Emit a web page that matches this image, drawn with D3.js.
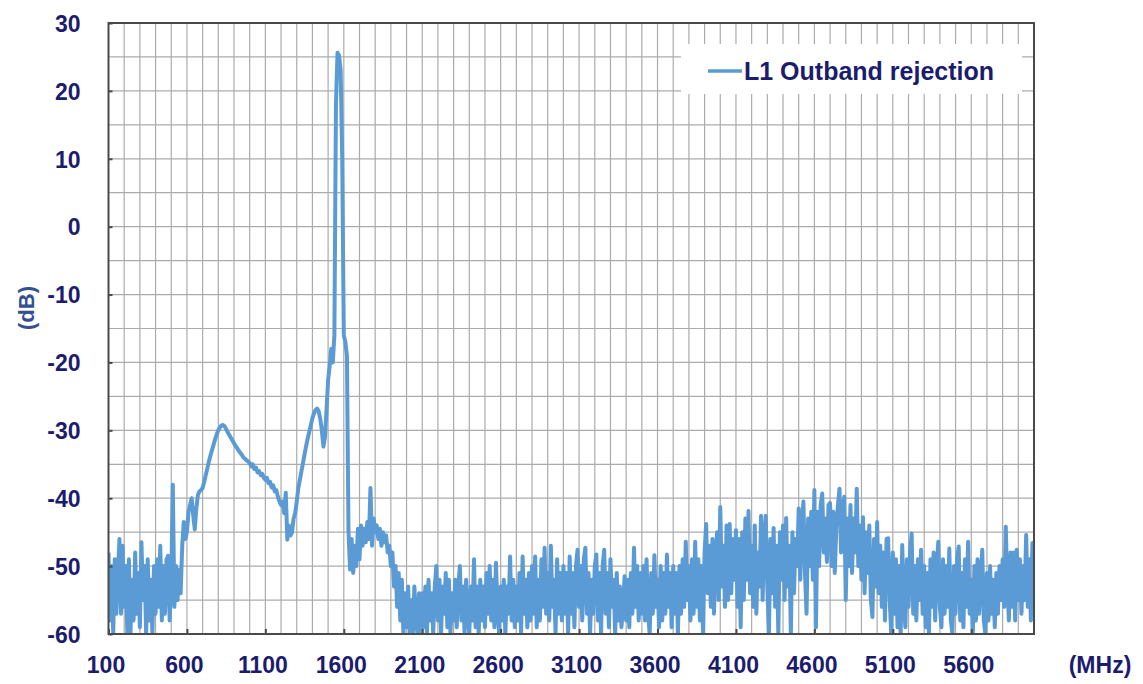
<!DOCTYPE html>
<html>
<head>
<meta charset="utf-8">
<script src="https://cdn.jsdelivr.net/npm/d3@7"></script>
<style>
  html, body { margin: 0; padding: 0; background: #ffffff; }
  svg { display: block; }
  text { font-family: "Liberation Sans", Arial, sans-serif; font-weight: bold; }
</style>
</head>
<body>
<svg id="chart" width="1143" height="684"></svg>
<script>
// Sweep resolution of the measurement (MHz between samples)
const sweepStep = 10;

// Measured response, dB, in consecutive sweep segments
const dbLowBand = [ // 100 – 590 MHz
  -48, -58, -50, -60, -49, -57, -51, -46, -57, -47,
  -56, -50, -60, -49, -60, -52, -58, -48, -57, -51,
  -59, -46.5, -55, -50, -60, -49, -58, -52, -60, -50,
  -57, -49, -56, -47, -58, -50, -57, -49, -48.5, -58,
  -52, -38, -56, -50, -55, -50.5, -54, -47, -43.5, -46
];
const dbHump = [ // 600 – 1290 MHz
  -45, -42, -41, -40, -42.5, -44.6, -41.5, -39.5, -39, -38.8,
  -38.5, -37.6, -36.6, -35.6, -34.6, -33.7, -32.9, -32.1, -31.3, -30.6,
  -30.0, -29.6, -29.3, -29.2, -29.4, -29.8, -30.3, -30.7, -31.1, -31.5,
  -31.9, -32.3, -32.6, -33.0, -33.3, -33.6, -34.0, -34.2, -34.4, -34.6,
  -34.8, -35.3, -35.0, -35.7, -35.5, -36.2, -36.0, -36.6, -36.4, -37.0,
  -37.3, -37.0, -37.8, -37.6, -38.4, -38.1, -39.0, -38.8, -39.8, -40.5,
  -41.0, -40.5, -42.2, -39.2, -46.1, -44.0, -45.5, -45.0, -43.0, -42.2
];
const dbPassband = [ // 1300 – 1630 MHz
  -40.5, -38.5, -37.3, -36, -34.8, -33.5, -32.3, -31.2, -30.2, -29.2,
  -28.2, -27.5, -27.0, -26.8, -27.2, -28.3, -30, -32.4, -31, -27,
  -22.6, -20.5, -18, -20, -16, 18, 25.6, 25.2, 23, 10,
  -16, -17, -19, -45
];
const dbUpperSkirt = [ // 1640 – 2090 MHz
  -50.5, -46, -51, -47, -50, -44.5, -49, -44, -47, -44.5,
  -46.5, -43.5, -46, -38.5, -47, -43, -45, -44, -46, -44.5,
  -47, -45, -46.5, -45.5, -48, -47, -50, -48, -53, -50,
  -56, -51, -58, -52, -60, -54, -59, -53, -60, -55,
  -60, -53, -58, -60, -54, -60
];
const dbMidBand = [ // 2100 – 4090 MHz
  -54, -59, -53, -60, -52, -58, -54, -60, -53, -50,
  -58, -52, -60, -53, -57, -51, -59, -52, -60, -54,
  -58, -52, -59, -53, -50, -58, -53, -60, -52, -57,
  -60, -53, -58, -49, -59, -53, -60, -52, -58, -53,
  -59, -51, -57, -50, -58, -52, -59, -49.5, -56, -60,
  -53, -58, -52, -60, -53, -57, -48.6, -58, -52, -59,
  -53, -58, -51, -60, -48.6, -57, -52, -59, -51, -58,
  -50, -57, -48.6, -59, -52, -58, -49, -56, -47.3, -57,
  -51, -58, -47, -56, -52, -60, -49, -57, -51, -58,
  -50, -57, -51, -60, -48.6, -57, -51, -59, -50, -47.6,
  -56, -50, -58, -49, -47.3, -57, -51, -60, -52, -57,
  -50, -48.3, -58, -51, -60, -50, -47.6, -57, -51, -59,
  -49, -56, -52, -60, -51, -58, -53, -59, -56, -51.5,
  -58, -52, -59, -51, -57, -47.3, -56, -50, -58, -51,
  -57, -50, -58, -49, -57, -60, -51, -57, -48.4, -56,
  -52, -59, -50, -58, -51, -57, -48.3, -56, -51, -59,
  -50, -57, -51, -60, -50, -57, -49, -56, -46.4, -55,
  -50, -58, -49, -57, -46.4, -56, -49, -58, -50, -60,
  -48, -43.8, -54, -47, -56, -46, -57, -48, -45, -55,
  -41.3, -53, -47, -56, -44, -55, -43.8, -54, -46, -52
];
const dbHighBand = [ // 4100 – 6000 MHz
  -44.7, -56, -46, -59, -45, -55, -43, -52, -41.9, -54,
  -47, -56, -44, -57, -48, -53, -42.6, -55, -46, -42.6,
  -53, -60, -46, -54, -44.4, -56, -47, -60, -45, -52,
  -44, -55, -42.9, -53, -47, -60, -45, -54, -46, -50,
  -41.5, -52, -44, -40.5, -51, -57, -43, -50, -42, -52,
  -38.8, -59, -42, -50, -41, -39.3, -48, -43, -49.4, -41,
  -40.7, -50, -42, -51, -44, -41, -38.6, -48, -42, -39.8,
  -55, -43, -50, -41, -51, -43, -48, -38.6, -50, -44,
  -52, -42.8, -54, -45, -51, -44, -55, -57.5, -46, -53,
  -43.5, -54, -47, -56, -48, -58, -46, -45.9, -55, -60,
  -48, -57, -49, -59, -50, -60, -46.9, -56, -59, -49,
  -56, -48, -45.2, -57, -50, -58, -49, -55, -47.6, -57,
  -50, -59, -51, -60, -49, -56, -48, -58, -50, -46.4,
  -56, -59, -49, -57, -50, -56, -47.4, -58, -60, -50,
  -57, -49, -47.1, -58, -51, -59, -49, -56, -46.4, -57,
  -52, -60, -50, -58, -49, -57, -52, -47.6, -58, -60,
  -51, -58, -50, -57, -52, -59, -51, -57, -50, -55,
  -49, -56, -44.2, -53, -58, -48, -56, -48, -58, -47.6,
  -55, -49, -57, -50, -55, -45.4, -56, -49, -58, -46.6,
  -52
];

// Segment start frequencies (MHz)
const segmentStarts = [100, 600, 1300, 1640, 2100, 4100];
const segmentValues = [dbLowBand, dbHump, dbPassband, dbUpperSkirt, dbMidBand, dbHighBand];

// Axis tick labels
const xTickValues = [100, 600, 1100, 1600, 2100, 2600, 3100, 3600, 4100, 4600, 5100, 5600];
const yTickValues = [-60, -50, -40, -30, -20, -10, 0, 10, 20, 30];
const seriesName = "L1 Outband rejection";

// Build the sweep as [freq, dB] points
const sweep = [];
segmentStarts.forEach((start, s) => {
  segmentValues[s].forEach((v, i) => sweep.push([start + i * sweepStep, v]));
});

const svg = d3.select("#chart");
const plot = { left: 108.5, right: 1034, top: 23, bottom: 634 };

const x = d3.scaleLinear().domain([100, 6000]).range([plot.left, plot.right]);
const y = d3.scaleLinear().domain([-60, 30]).range([plot.bottom, plot.top]);

const textColor = "#1c1c6e";
const lineColor = "#5b9bd5";
const gridColor = "#ababab";
const frameColor = "#4a4a4a";
const fontStack = "'Liberation Sans', Arial, sans-serif";

// Grid: every 100 MHz and every 5 dB
const grid = svg.append("g");
grid.selectAll("line.v")
  .data(d3.range(200, 6000, 100))
  .join("line")
  .attr("x1", d => x(d)).attr("x2", d => x(d))
  .attr("y1", plot.top).attr("y2", plot.bottom)
  .attr("stroke", gridColor).attr("stroke-width", 1.2);
grid.selectAll("line.h")
  .data(d3.range(-55, 30, 5))
  .join("line")
  .attr("x1", plot.left).attr("x2", plot.right)
  .attr("y1", d => y(d)).attr("y2", d => y(d))
  .attr("stroke", gridColor).attr("stroke-width", 1.2);

// Data line, clipped to the plot frame
svg.append("clipPath").attr("id", "plotClip")
  .append("rect")
  .attr("x", plot.left).attr("y", plot.top)
  .attr("width", plot.right - plot.left).attr("height", plot.bottom - plot.top);

const line = d3.line().x(d => x(d[0])).y(d => y(d[1]));
svg.append("path")
  .datum(sweep)
  .attr("clip-path", "url(#plotClip)")
  .attr("d", line)
  .attr("fill", "none")
  .attr("stroke", lineColor)
  .attr("stroke-width", 4)
  .attr("stroke-linejoin", "round");

// Frame
svg.append("rect")
  .attr("x", plot.left).attr("y", plot.top)
  .attr("width", plot.right - plot.left).attr("height", plot.bottom - plot.top)
  .attr("fill", "none").attr("stroke", frameColor).attr("stroke-width", 2);

// Axes
const xAxis = svg.append("g")
  .attr("transform", `translate(0,${plot.bottom})`)
  .call(d3.axisBottom(x).tickValues(xTickValues).tickFormat(d3.format("d"))
    .tickSize(-5).tickSizeOuter(0).tickPadding(0));
xAxis.select(".domain").remove();
xAxis.selectAll(".tick line").attr("stroke", frameColor).attr("stroke-width", 2);
xAxis.selectAll(".tick text")
  .attr("y", 39).attr("dy", null).attr("dx", -3)
  .attr("fill", textColor).style("font-size", "23px").style("font-weight", "bold")
  .style("font-family", fontStack);

const yAxis = svg.append("g")
  .attr("transform", `translate(${plot.left},0)`)
  .call(d3.axisLeft(y).tickValues(yTickValues).tickFormat(d3.format("d"))
    .tickSize(-4).tickSizeOuter(0).tickPadding(0));
yAxis.select(".domain").remove();
yAxis.selectAll(".tick line").attr("stroke", frameColor).attr("stroke-width", 2);
yAxis.selectAll(".tick text")
  .attr("x", -28).attr("dy", "0.36em")
  .attr("fill", textColor).style("font-size", "23px").style("font-weight", "bold")
  .style("font-family", fontStack)
  .text(d => String(d)); // plain hyphen-minus

// Axis units
svg.append("text")
  .attr("x", 1100).attr("y", 673)
  .attr("text-anchor", "middle")
  .attr("fill", textColor).style("font-size", "23px")
  .text("(MHz)");
svg.append("text")
  .attr("transform", "translate(26,308) rotate(-90)")
  .attr("text-anchor", "middle").attr("dy", "0.36em")
  .attr("fill", "#34508f").style("font-size", "22px")
  .text("(dB)");

// Legend
const legend = svg.append("g");
legend.append("rect")
  .attr("x", 681).attr("y", 44).attr("width", 341).attr("height", 50)
  .attr("fill", "#ffffff");
legend.append("line")
  .attr("x1", 708).attr("x2", 742).attr("y1", 71).attr("y2", 71)
  .attr("stroke", lineColor).attr("stroke-width", 3.5);
legend.append("text")
  .attr("x", 744).attr("y", 71).attr("dy", "0.36em")
  .attr("fill", textColor).style("font-size", "25px")
  .text(seriesName);
</script>
</body>
</html>
